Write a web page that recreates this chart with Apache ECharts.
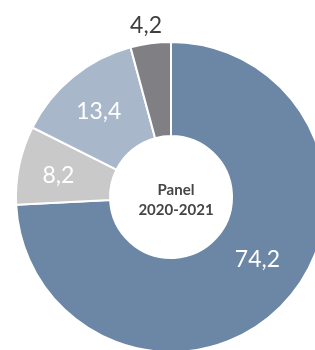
<!DOCTYPE html>
<html>
<head>
<meta charset="utf-8">
<script src="https://cdn.jsdelivr.net/npm/echarts@6/dist/echarts.min.js"></script>
<style>
  html, body { margin: 0; padding: 0; background: #fff; }
  #chart { width: 315px; height: 350px; }
</style>
</head>
<body>
<div id="chart"></div>
<script>
var categories = ['A', 'B', 'C', 'D'];
var values = [74.2, 8.2, 13.4, 4.2];
var colors = ['#6b87a5', '#c9c9c9', '#a9b7ca', '#808084'];
var centerLines = ['Panel', '2020-2021'];

var chart = echarts.init(document.getElementById('chart'));

// small nudges so the labels sit where the reference has them
var labelOffsets = [[6, -14], [-4, 1], [-2, 1], [19, 2]];

var pieData = values.map(function (v, i) {
    var item = {
        name: categories[i],
        value: v,
        itemStyle: { color: colors[i] },
        label: { offset: labelOffsets[i] }
    };
    // the small slice keeps its label outside, above the ring
    if (i === 3) {
        item.label.position = 'outside';
        item.label.color = '#3f3f3f';
        item.labelLine = { show: false, length: 20, length2: 0 };
    }
    return item;
});

var option = {
    animation: false,
    title: {
        text: centerLines.join('\n'),
        left: 171,
        top: 175,
        textAlign: 'center',
        textStyle: {
            fontFamily: 'Lato',
            fontWeight: 'bold',
            fontSize: 15,
            lineHeight: 20,
            color: '#454545'
        }
    },
    series: [{
        type: 'pie',
        center: [171, 197],
        radius: [61, 155],
        startAngle: 90,
        clockwise: true,
        avoidLabelOverlap: false,
        itemStyle: { borderColor: '#fff', borderWidth: 2 },
        label: {
            show: true,
            position: 'inside',
            fontFamily: 'Lato',
            fontWeight: 'normal',
            fontSize: 23,
            color: '#fff',
            formatter: function (p) {
                return String(p.value).replace('.', ',');
            }
        },
        data: pieData
    }]
};
chart.setOption(option);
</script>
</body>
</html>
